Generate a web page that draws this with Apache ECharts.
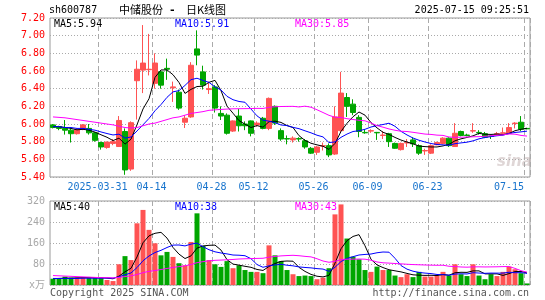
<!DOCTYPE html>
<html>
<head>
<meta charset="utf-8">
<title>中储股份 日K线图</title>
<script src="https://cdn.jsdelivr.net/npm/echarts@6/dist/echarts.min.js"></script>
<style>
  html, body { margin: 0; padding: 0; background: #fff; }
  #kline { width: 545px; height: 300px; }
</style>
</head>
<body>
<div id="kline"></div>
<script>
// 交易日 (2025-03-19 ~ 2025-07-15)
const days = [
  '2025-03-19', '2025-03-20', '2025-03-21', '2025-03-24', '2025-03-25', '2025-03-26', '2025-03-27', '2025-03-28',
  '2025-03-31', '2025-04-01', '2025-04-02', '2025-04-03', '2025-04-07', '2025-04-08', '2025-04-09', '2025-04-10',
  '2025-04-11', '2025-04-14', '2025-04-15', '2025-04-16', '2025-04-17', '2025-04-18', '2025-04-21', '2025-04-22',
  '2025-04-23', '2025-04-24', '2025-04-25', '2025-04-28', '2025-04-29', '2025-04-30', '2025-05-06', '2025-05-07',
  '2025-05-08', '2025-05-09', '2025-05-12', '2025-05-13', '2025-05-14', '2025-05-15', '2025-05-16', '2025-05-19',
  '2025-05-20', '2025-05-21', '2025-05-22', '2025-05-23', '2025-05-26', '2025-05-27', '2025-05-28', '2025-05-29',
  '2025-05-30', '2025-06-03', '2025-06-04', '2025-06-05', '2025-06-06', '2025-06-09', '2025-06-10', '2025-06-11',
  '2025-06-12', '2025-06-13', '2025-06-16', '2025-06-17', '2025-06-18', '2025-06-19', '2025-06-20', '2025-06-23',
  '2025-06-24', '2025-06-25', '2025-06-26', '2025-06-27', '2025-06-30', '2025-07-01', '2025-07-02', '2025-07-03',
  '2025-07-04', '2025-07-07', '2025-07-08', '2025-07-09', '2025-07-10', '2025-07-11', '2025-07-14', '2025-07-15'
]
// 横轴刻度日期
const tickDays = ['2025-03-31', '2025-04-14', '2025-04-28', '2025-05-12', '2025-05-26', '2025-06-09', '2025-06-23', '2025-07-15']

// K线: 开 收 低 高
const openPrice = [
  5.99, 5.97, 5.95, 5.93, 5.89, 5.94, 5.95, 5.90, 5.79, 5.735,
  5.78, 5.745, 5.915, 5.49, 6.49, 6.61, 6.615, 6.46, 6.59, 6.63,
  6.41, 6.36, 6.02, 6.08, 6.85, 6.59, 6.39, 6.42, 6.12, 6.10,
  5.92, 6.09, 6.00, 6.035, 5.99, 6.065, 5.95, 6.20, 5.925, 5.835,
  5.82, 5.835, 5.81, 5.725, 5.68, 5.75, 5.755, 5.66, 5.925, 6.30,
  6.225, 6.075, 5.905, 5.92, 5.905, 5.87, 5.89, 5.78, 5.71, 5.785,
  5.82, 5.755, 5.695, 5.67, 5.765, 5.78, 5.84, 5.745, 5.915, 5.875,
  5.92, 5.905, 5.89, 5.865, 5.885, 5.895, 5.895, 6.005, 6.02, 5.95
]
const closePrice = [
  5.96, 5.95, 5.93, 5.89, 5.94, 5.99, 5.90, 5.815, 5.74, 5.795,
  5.80, 6.04, 5.48, 6.015, 6.62, 6.69, 6.62, 6.69, 6.44, 6.62,
  6.42, 6.18, 6.065, 6.665, 6.78, 6.44, 6.40, 6.18, 6.09, 5.895,
  6.035, 5.98, 5.98, 5.895, 6.01, 5.95, 6.29, 6.01, 5.83, 5.83,
  5.84, 5.83, 5.74, 5.67, 5.74, 5.755, 5.65, 6.08, 6.35, 6.20,
  6.13, 5.915, 5.90, 5.925, 5.90, 5.875, 5.80, 5.725, 5.78, 5.79,
  5.775, 5.67, 5.70, 5.755, 5.79, 5.84, 5.755, 5.895, 5.87, 5.87,
  5.925, 5.90, 5.85, 5.86, 5.89, 5.90, 5.96, 6.01, 5.94, 5.945
]
const lowPrice = [
  5.95, 5.93, 5.88, 5.79, 5.88, 5.93, 5.88, 5.80, 5.71, 5.72,
  5.76, 5.74, 5.425, 5.47, 6.05, 6.35, 6.55, 6.40, 6.40, 6.50,
  6.25, 6.16, 5.955, 6.07, 6.665, 6.39, 6.34, 6.13, 6.045, 5.88,
  5.91, 5.915, 5.93, 5.86, 5.97, 5.94, 5.93, 5.99, 5.81, 5.77,
  5.79, 5.80, 5.72, 5.66, 5.65, 5.70, 5.625, 5.65, 5.91, 6.08,
  6.10, 5.85, 5.89, 5.90, 5.82, 5.83, 5.74, 5.72, 5.70, 5.74,
  5.74, 5.65, 5.65, 5.66, 5.76, 5.77, 5.74, 5.74, 5.86, 5.86,
  5.90, 5.88, 5.84, 5.83, 5.87, 5.89, 5.89, 5.95, 5.92, 5.94
]
const highPrice = [
  6.00, 5.98, 6.045, 5.95, 5.95, 6.00, 6.00, 5.91, 5.80, 5.80,
  5.83, 6.09, 5.95, 6.03, 6.72, 7.12, 7.02, 6.80, 6.61, 6.74,
  6.48, 6.39, 6.10, 6.70, 7.06, 6.66, 6.48, 6.44, 6.20, 6.12,
  6.04, 6.17, 6.03, 6.04, 6.03, 6.08, 6.30, 6.21, 5.95, 5.87,
  5.86, 5.85, 5.83, 5.74, 5.75, 5.79, 5.78, 6.20, 6.59, 6.35,
  6.28, 6.10, 5.94, 5.94, 5.91, 5.92, 5.90, 5.79, 5.79, 5.83,
  5.85, 5.77, 5.72, 5.77, 5.80, 5.85, 5.85, 6.01, 5.925, 5.89,
  6.01, 5.93, 5.91, 5.87, 5.91, 5.96, 6.01, 6.02, 6.09, 5.95
]

// 均线(价格)
const ma5 = [
  5.97, 5.97, 5.96, 5.95, 5.934, 5.94, 5.93, 5.908, 5.878, 5.85,
  5.812, 5.84, 5.772, 5.828, 5.992, 6.17, 6.286, 6.528, 6.612, 6.612,
  6.558, 6.47, 6.346, 6.392, 6.424, 6.428, 6.472, 6.494, 6.378, 6.202,
  6.122, 6.038, 5.998, 5.96, 5.982, 5.964, 6.026, 6.032, 6.018, 5.982,
  5.96, 5.868, 5.814, 5.782, 5.764, 5.748, 5.712, 5.78, 5.916, 6.008,
  6.082, 6.136, 6.10, 6.016, 5.956, 5.906, 5.882, 5.848, 5.818, 5.796,
  5.776, 5.75, 5.744, 5.74, 5.74, 5.752, 5.77, 5.81, 5.832, 5.848,
  5.866, 5.894, 5.884, 5.882, 5.886, 5.88, 5.892, 5.924, 5.94, 5.952
]
const ma10 = [
  5.97, 5.97, 5.96, 5.96, 5.95, 5.95, 5.94, 5.93, 5.91, 5.892,
  5.876, 5.885, 5.84, 5.853, 5.921, 5.991, 6.063, 6.15, 6.22, 6.302,
  6.364, 6.378, 6.437, 6.502, 6.518, 6.493, 6.471, 6.42, 6.385, 6.313,
  6.275, 6.255, 6.246, 6.169, 6.092, 6.043, 6.032, 6.015, 5.989, 5.982,
  5.962, 5.947, 5.923, 5.90, 5.873, 5.854, 5.79, 5.797, 5.849, 5.886,
  5.915, 5.924, 5.94, 5.966, 5.982, 5.994, 6.009, 5.974, 5.917, 5.876,
  5.841, 5.816, 5.796, 5.779, 5.768, 5.764, 5.76, 5.777, 5.786, 5.794,
  5.809, 5.832, 5.847, 5.857, 5.867, 5.873, 5.893, 5.904, 5.911, 5.919
]
const ma30 = [
  6.08, 6.075, 6.07, 6.06, 6.05, 6.04, 6.03, 6.02, 6.01, 6.00,
  5.99, 5.975, 5.96, 5.955, 5.96, 5.98, 6.00, 6.01, 6.03, 6.05,
  6.07, 6.08, 6.10, 6.12, 6.13, 6.14, 6.155, 6.16, 6.165, 6.169,
  6.172, 6.173, 6.174, 6.175, 6.177, 6.176, 6.189, 6.195, 6.198, 6.199,
  6.20, 6.193, 6.202, 6.19, 6.161, 6.13, 6.098, 6.077, 6.074, 6.06,
  6.051, 6.042, 6.036, 6.012, 5.982, 5.964, 5.944, 5.929, 5.918, 5.915,
  5.906, 5.896, 5.886, 5.882, 5.874, 5.871, 5.853, 5.849, 5.851, 5.852,
  5.855, 5.857, 5.861, 5.867, 5.872, 5.877, 5.887, 5.885, 5.871, 5.863
]

// 成交量(万手)
const volume = [
  24, 24, 32, 28, 28, 28, 28, 28, 28, 19,
  15, 79, 110, 95, 235, 286, 210, 159, 113, 126,
  107, 83, 75, 164, 273, 149, 95, 79, 69, 91,
  64, 75, 57, 50, 50, 45, 151, 113, 91, 57,
  41, 34, 36, 34, 22, 28, 64, 269, 307, 177,
  108, 98, 57, 50, 70, 57, 57, 36, 30, 41,
  30, 50, 32, 32, 36, 50, 36, 79, 41, 34,
  79, 36, 22, 41, 34, 50, 70, 60, 45, 6
]
const vma5 = [
  24, 25, 26, 26, 27.2, 28, 28.8, 28, 28, 26.2,
  23.6, 33.8, 50.2, 63.6, 106.8, 161, 187.2, 197, 200.6, 178.8,
  143, 117.6, 100.8, 111, 140.4, 148.8, 151.2, 152, 133, 96.6,
  79.6, 75.6, 71.2, 67.4, 59.2, 55.4, 70.6, 81.8, 90, 91.4,
  90.6, 67.2, 51.8, 40.4, 33.4, 30.8, 36.8, 83.4, 138, 169,
  185, 191.8, 149.4, 98, 76.6, 66.4, 58.2, 54, 50, 44.2,
  38.8, 37.4, 36.6, 37, 36, 40, 37.2, 46.6, 48.4, 48,
  53.8, 53.8, 42.4, 42.4, 42.4, 36.6, 43.4, 51, 51.8, 46.2
]
const vma10 = [
  25, 25, 25, 25, 25, 26, 26, 26, 26, 26.7,
  25.8, 31.3, 39.1, 45.8, 66.5, 92.3, 110.5, 123.6, 132.1, 142.8,
  152, 152.4, 148.9, 155.8, 159.6, 145.9, 134.4, 126.4, 122, 118.5,
  114.2, 113.4, 111.6, 100.2, 77.9, 67.5, 73.1, 76.5, 78.7, 75.3,
  73, 68.9, 66.8, 65.2, 62.4, 60.7, 52, 67.6, 89.2, 101.2,
  107.9, 114.3, 116.4, 118, 122.8, 125.7, 125, 101.7, 74, 60.4,
  52.6, 47.8, 45.3, 43.5, 40.1, 39.4, 37.3, 41.6, 42.7, 42,
  46.9, 45.5, 44.5, 45.4, 45.2, 45.2, 48.6, 46.7, 47.1, 44.3
]
const vma30 = [
  36, 35, 34, 33, 32, 31, 30, 29, 28, 28,
  27, 29, 32, 35, 40, 47, 52, 55, 59, 63,
  67, 70, 73, 78, 85, 89, 92, 94, 95, 96,
  97.3, 99, 99.9, 100.6, 101.3, 101.9, 106, 108.8, 110.9, 112.2,
  113.1, 111.6, 109.1, 107.1, 100, 91.4, 86.5, 90.2, 96.6, 98.3,
  98.4, 98.9, 98.3, 94.5, 87.7, 84.6, 83.4, 81.9, 80.6, 79,
  77.8, 77, 76.2, 75.6, 75.1, 75.3, 71.4, 70.3, 68.6, 67.9,
  69.1, 69.2, 68.7, 69, 69.4, 70.1, 70.3, 63.3, 54.6, 48.9
]

const UP = '#ff5353'
const DOWN = '#00a600'
const MONO = '"DejaVu Sans Mono", "Noto Sans CJK SC", monospace'
const CJK = '"Noto Sans CJK SC"'
const GRID_LINE = '#aaaaaa'

let chartDom = document.getElementById('kline')
let myChart = echarts.init(chartDom, null, {renderer: 'canvas'})

const candleData = days.map((d, i) => [openPrice[i], closePrice[i], lowPrice[i], highPrice[i]])
const volData = volume.map((v, i) => ({
  value: v,
  itemStyle: {color: closePrice[i] >= openPrice[i] ? UP : DOWN}
}))

const isTick = (index, value) => tickDays.includes(value)

// 公共的横轴设置
const xAxisBase = {
  type: 'category',
  data: days,
  boundaryGap: true,
  axisLine: {show: false},
  axisTick: {show: false},
  splitLine: {
    show: true,
    interval: isTick,
    lineStyle: {color: GRID_LINE, type: [5, 3], width: 1}
  }
}

const lineSeries = (name, data, color, xi) => ({
  name: name,
  type: 'line',
  xAxisIndex: xi,
  yAxisIndex: xi,
  data: data,
  symbol: 'none',
  silent: true,
  lineStyle: {color: color, width: 1},
  z: 3
})

// 文字 (align: left / right)
const text = (x, y, str, color, align, font) => ({
  type: 'text',
  x: x,
  y: y,
  silent: true,
  style: {
    text: str,
    fill: color,
    font: font || ('10px ' + MONO),
    align: align || 'left',
    textAlign: align || 'left',
    verticalAlign: 'middle',
    textVerticalAlign: 'middle'
  }
})

let option = {
  animation: false,
  backgroundColor: '#fff',
  grid: [
    {left: 50, right: 15, top: 18, height: 159, show: true, borderColor: '#999', borderWidth: 1},
    {left: 50, right: 15, top: 201, height: 84, show: true, borderColor: '#999', borderWidth: 1}
  ],
  xAxis: [
    Object.assign({}, xAxisBase, {
      gridIndex: 0,
      axisLabel: {
        show: true,
        interval: isTick,
        color: '#1874cd',
        fontFamily: MONO,
        fontSize: 10,
        margin: 5,
        padding: [0, 7, 0, 0],
        hideOverlap: false,
        formatter: function (value) {
          if (value === '2025-03-31') return value
          if (value === '2025-07-15') return '{last|' + value.slice(5) + '}'
          return value.slice(5)
        },
        rich: {
          last: {color: '#1874cd', fontFamily: MONO, fontSize: 10, padding: [0, 29, 0, 0]}
        }
      }
    }),
    Object.assign({}, xAxisBase, {gridIndex: 1, axisLabel: {show: false}})
  ],
  yAxis: [
    {
      gridIndex: 0,
      min: 5.4,
      max: 7.2,
      interval: 0.2,
      axisLine: {show: false},
      axisTick: {show: false},
      axisLabel: {
        color: '#ff0000',
        fontFamily: MONO,
        fontSize: 10,
        margin: 5,
        formatter: v => v.toFixed(2)
      },
      splitLine: {lineStyle: {color: GRID_LINE, type: [1, 2], width: 1}}
    },
    {
      gridIndex: 1,
      min: 0,
      max: 320,
      interval: 80,
      axisLine: {show: false},
      axisTick: {show: false},
      axisLabel: {
        color: '#a8a8a8',
        fontFamily: MONO,
        fontSize: 10,
        margin: 5,
        formatter: v => v === 0 ? 'x万' : String(v)
      },
      splitLine: {lineStyle: {color: GRID_LINE, type: [1, 2], width: 1}}
    }
  ],
  series: [
    {
      name: '日K',
      type: 'candlestick',
      xAxisIndex: 0,
      yAxisIndex: 0,
      data: candleData,
      barWidth: 5,
      silent: true,
      itemStyle: {
        color: UP,
        color0: DOWN,
        borderColor: UP,
        borderColor0: DOWN,
        borderWidth: 1
      }
    },
    lineSeries('MA5', ma5, '#000000', 0),
    lineSeries('MA10', ma10, '#0000ff', 0),
    lineSeries('MA30', ma30, '#ff00ff', 0),
    {
      name: '成交量',
      type: 'bar',
      xAxisIndex: 1,
      yAxisIndex: 1,
      data: volData,
      barWidth: 5,
      silent: true
    },
    lineSeries('VMA5', vma5, '#000000', 1),
    lineSeries('VMA10', vma10, '#0000ff', 1),
    lineSeries('VMA30', vma30, '#ff00ff', 1)
  ],
  graphic: [
    text(49, 10, 'sh600787', '#000'),
    // 标题
    text(119, 10, '中储股份', '#000', 'left', '11px ' + CJK),
    text(169, 10, '-', '#000', 'left', 'bold 11px ' + MONO),
    text(186, 10, '日K线图', '#000', 'left', '11px ' + CJK),
    text(529, 10, '2025-07-15 09:25:51', '#000', 'right'),
    // 均线图例
    text(54, 24, 'MA5:5.94', '#000'),
    text(175, 24, 'MA10:5.91', '#0000ff'),
    text(295, 24, 'MA30:5.85', '#ff00ff'),
    text(54, 207, 'MA5:40', '#000'),
    text(175, 207, 'MA10:38', '#0000ff'),
    text(295, 207, 'MA30:43', '#ff00ff'),
    text(50, 293, 'Copyright 2025 SINA.COM', '#555'),
    text(529, 293, 'http://finance.sina.com.cn', '#555', 'right'),
    // 水印
    text(497, 162, 'sina', 'rgba(185,165,165,0.45)', 'left', 'italic bold 15px "DejaVu Sans"')
  ]
}

myChart.setOption(option)
</script>
</body>
</html>
